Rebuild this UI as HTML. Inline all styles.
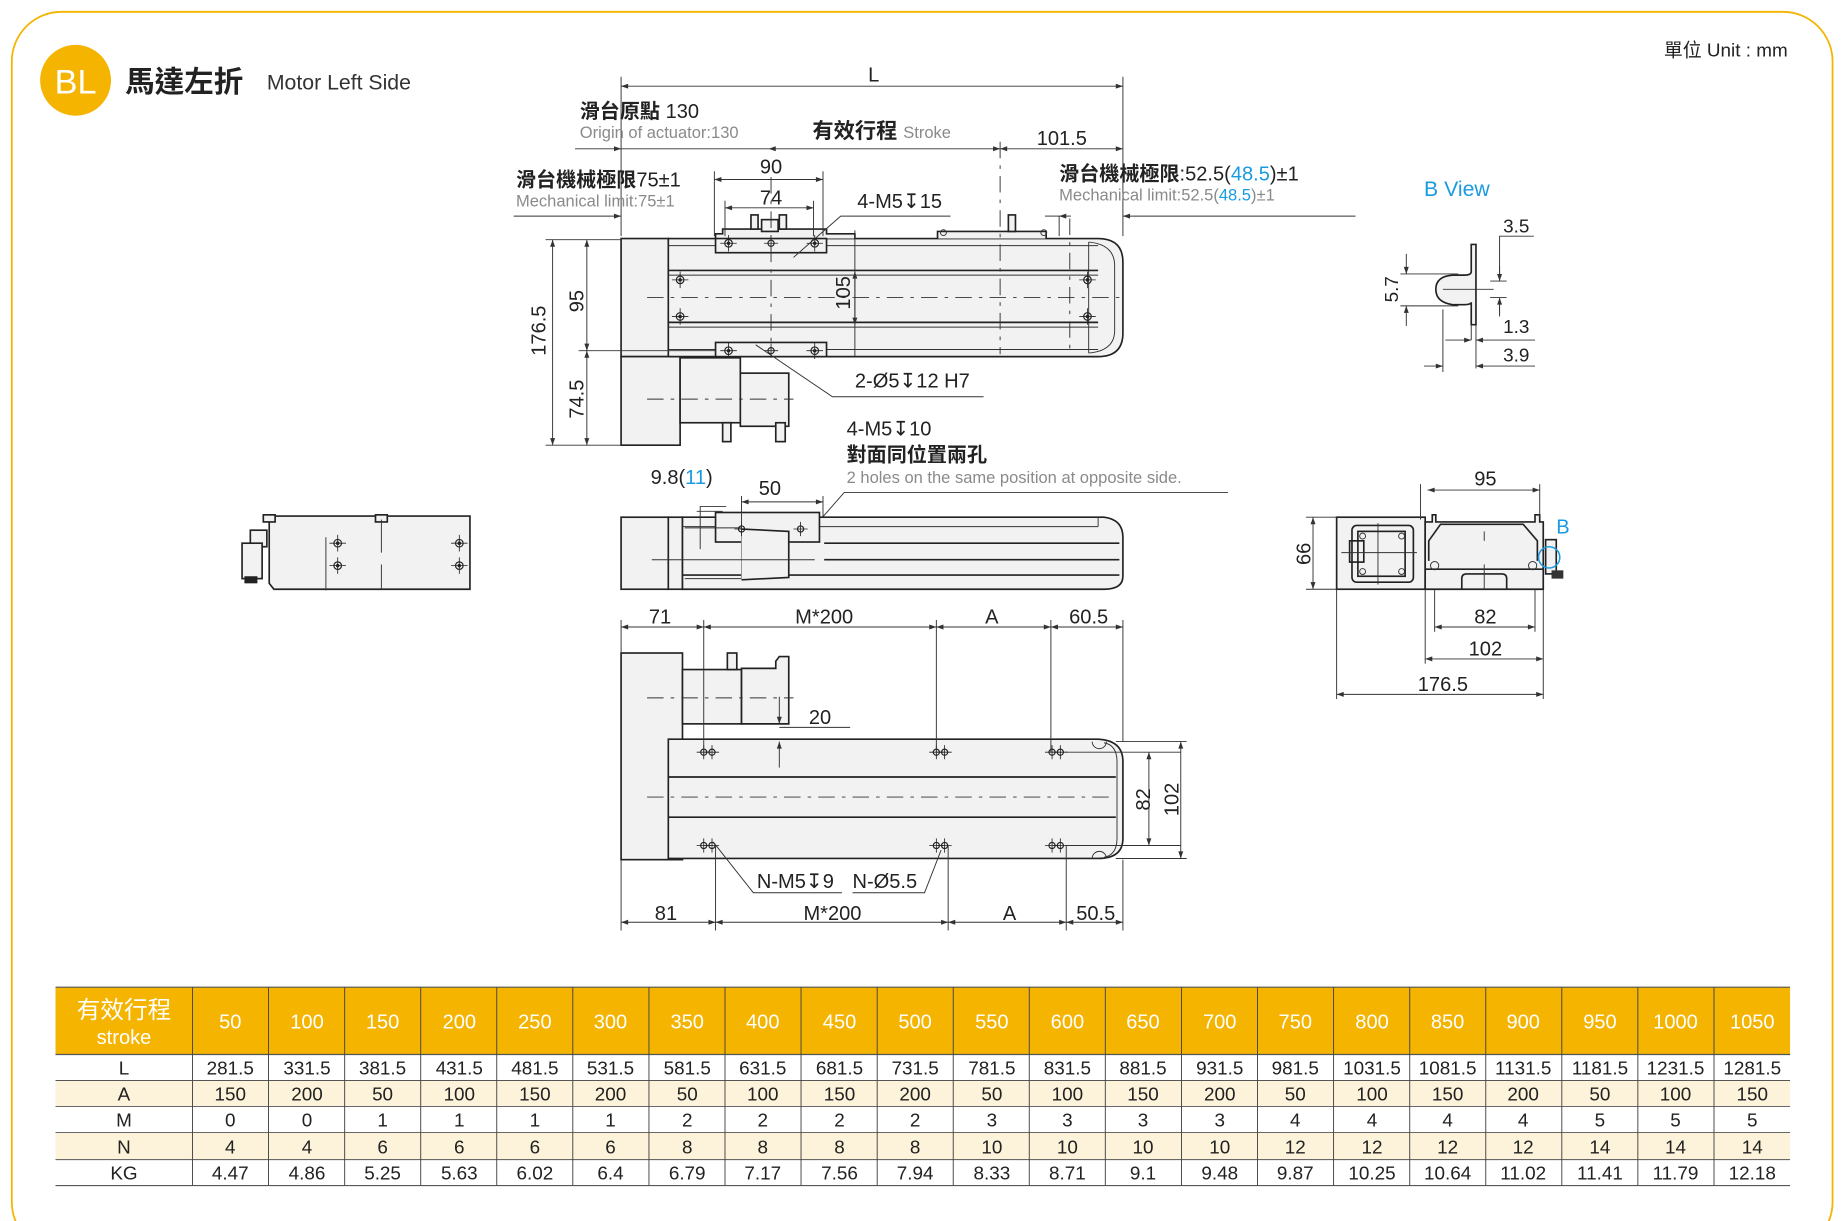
<!DOCTYPE html>
<html><head><meta charset="utf-8"><style>
html,body{margin:0;padding:0;background:#fff;}
svg{display:block;}
text{font-family:"Liberation Sans","Noto Sans CJK TC",sans-serif;fill:#222;}
.g{fill:#8a8a8a;}
.b{fill:#1a9be0;}
.o{fill:none;stroke:#222;stroke-width:1.4;}
.f{fill:#f2f2f2;stroke:#222;stroke-width:1.4;}
.t{fill:none;stroke:#333;stroke-width:0.8;}
.d{fill:none;stroke:#333;stroke-width:0.8;marker-start:url(#a);marker-end:url(#a);}
.c{fill:none;stroke:#333;stroke-width:0.8;stroke-dasharray:14 6 3 6;}
.tc{fill:none;stroke:#333;stroke-width:0.8;}
</style></head><body>
<svg width="1842" height="1221" viewBox="0 0 1560 1034" preserveAspectRatio="none" xmlns="http://www.w3.org/2000/svg">
<defs>
<marker id="a" viewBox="0 0 10 10" refX="10" refY="5" markerWidth="9" markerHeight="6" orient="auto-start-reverse" markerUnits="userSpaceOnUse"><path d="M0,1.5 L10,5 L0,8.5z" fill="#333"/></marker>
<g id="h"><circle r="3.2" fill="none" stroke="#222" stroke-width="1"/><circle r="1.5" fill="#222"/><path d="M-7,0H7M0,-7V7" stroke="#222" stroke-width="0.7"/></g>
<g id="hs"><circle r="2.6" fill="none" stroke="#222" stroke-width="1"/><path d="M-6,0H6M0,-6V6" stroke="#222" stroke-width="0.7"/></g>
</defs>
<rect x="0" y="0" width="1560" height="1034" fill="#fff"/>
<rect x="10" y="10" width="1542" height="1050" rx="42" fill="none" stroke="#f5b400" stroke-width="1.5"/>

<!-- header -->
<circle cx="64" cy="68" r="30" fill="#f5b400"/>
<text x="64" y="79" font-size="29" text-anchor="middle" style="fill:#fff">BL</text>
<text x="106" y="78" font-size="25" font-weight="bold">馬達左折</text>
<text x="226" y="76" font-size="18" style="fill:#333">Motor Left Side</text>
<text x="1514" y="48" font-size="16" text-anchor="end">單位 Unit : mm</text>

<!-- ============ TOP VIEW ============ -->
<rect x="526" y="202" width="40" height="100" class="f"/>
<rect x="526" y="302" width="50" height="75" class="f"/>
<path d="M566,202 H930 Q951,202 951,222 V282 Q951,302 930,302 H566z" class="f"/>
<path d="M922,205 Q944,207 944,225 V280 Q944,297 922,299" class="t"/>
<line x1="922" y1="205" x2="922" y2="299" class="t"/>
<line x1="566" y1="229" x2="930" y2="229" class="o" stroke-width="1"/>
<line x1="566" y1="233" x2="930" y2="233" class="t"/>
<line x1="566" y1="273" x2="930" y2="273" class="o" stroke-width="1"/>
<line x1="566" y1="277" x2="930" y2="277" class="t"/>
<line x1="566" y1="208" x2="930" y2="208" class="t"/>
<line x1="566" y1="296" x2="930" y2="296" class="t"/>
<!-- slider -->
<path d="M606,202 V198 H612 V194 H700 V198 H724 V202" class="f"/>
<rect x="606" y="202" width="94" height="12" class="f"/>
<rect x="606" y="290" width="94" height="12" class="f"/>
<rect x="636" y="182" width="6" height="12" class="f"/><rect x="660" y="182" width="6" height="12" class="f"/>
<rect x="645" y="186" width="14" height="10" class="f"/>
<path d="M794,202 V196 H886 V202" class="f"/>
<rect x="854" y="182" width="6" height="14" class="f"/>
<use href="#h" x="617" y="206"/><use href="#h" x="690" y="206"/><use href="#hs" x="653" y="206"/>
<use href="#h" x="617" y="297"/><use href="#h" x="690" y="297"/><use href="#hs" x="653" y="297"/>
<use href="#h" x="576" y="237"/><use href="#h" x="576" y="268"/><use href="#h" x="921" y="237"/><use href="#h" x="921" y="268"/>
<circle cx="799" cy="197" r="2.5" class="t"/><circle cx="884" cy="197" r="2.5" class="t"/>
<line x1="548" y1="252" x2="948" y2="252" class="c"/>
<line x1="653" y1="150" x2="653" y2="300" class="c"/>
<line x1="847" y1="120" x2="847" y2="300" class="c"/>
<line x1="724" y1="195" x2="724" y2="302" class="t"/>
<line x1="906" y1="185" x2="906" y2="300" class="c"/>
<!-- motor -->
<rect x="576" y="303" width="51" height="55" class="f"/>
<rect x="627" y="316" width="41" height="45" class="f"/>
<rect x="612" y="358" width="7" height="16" class="f"/><rect x="657" y="358" width="8" height="16" class="f"/>
<line x1="548" y1="338" x2="672" y2="338" class="c"/>
<!-- top dims -->
<line x1="526" y1="65" x2="526" y2="200" class="t"/>
<line x1="951" y1="65" x2="951" y2="200" class="t"/>
<line x1="526" y1="73" x2="951" y2="73" class="d"/>
<text x="740" y="69" font-size="17" text-anchor="middle">L</text>
<line x1="487" y1="126" x2="526" y2="126" class="t" marker-end="url(#a)"/>
<line x1="526" y1="126" x2="651" y2="126" class="t"/>
<line x1="651" y1="126" x2="847" y2="126" class="d"/>
<line x1="847" y1="126" x2="951" y2="126" class="d"/>
<text x="491" y="100" font-size="17" font-weight="bold">滑台原點 <tspan font-weight="normal">130</tspan></text>
<text x="491" y="117" font-size="14" class="g">Origin of actuator:130</text>
<text x="688" y="117" font-size="18" font-weight="bold">有效行程 <tspan font-size="14" font-weight="normal" class="g">Stroke</tspan></text>
<text x="878" y="123" font-size="17">101.5</text>
<line x1="435" y1="183" x2="526" y2="183" class="t" marker-end="url(#a)"/>
<text x="437" y="158" font-size="17" font-weight="bold">滑台機械極限<tspan font-weight="normal">75±1</tspan></text>
<text x="437" y="175" font-size="14" class="g">Mechanical limit:75±1</text>
<line x1="605" y1="145" x2="605" y2="200" class="t"/><line x1="697" y1="145" x2="697" y2="200" class="t"/>
<line x1="605" y1="152" x2="697" y2="152" class="d"/>
<text x="653" y="147" font-size="17" text-anchor="middle">90</text>
<line x1="614" y1="170" x2="614" y2="200" class="t"/><line x1="689" y1="170" x2="689" y2="200" class="t"/>
<line x1="614" y1="176" x2="689" y2="176" class="d"/>
<text x="653" y="173" font-size="17" text-anchor="middle">74</text>
<text x="726" y="176" font-size="17">4-M5↧15</text>
<polyline points="805,183 712,183 672,218" class="t"/>
<text x="897" y="153" font-size="17" font-weight="bold">滑台機械極限<tspan font-weight="normal">:52.5(<tspan class="b">48.5</tspan>)±1</tspan></text>
<text x="897" y="170" font-size="14" class="g">Mechanical limit:52.5(<tspan class="b">48.5</tspan>)±1</text>
<line x1="885" y1="183" x2="897" y2="183" class="t"/>
<line x1="897" y1="183" x2="897" y2="200" class="t"/>
<line x1="907" y1="183" x2="897" y2="183" class="t" marker-end="url(#a)"/>
<line x1="1148" y1="183" x2="951" y2="183" class="t" marker-end="url(#a)"/>
<!-- left dims -->
<line x1="462" y1="203" x2="526" y2="203" class="t"/>
<line x1="462" y1="377" x2="526" y2="377" class="t"/>
<line x1="490" y1="297" x2="606" y2="297" class="t"/>
<line x1="468" y1="203" x2="468" y2="377" class="d"/>
<text transform="translate(462,280) rotate(-90)" font-size="17" text-anchor="middle">176.5</text>
<line x1="497" y1="203" x2="497" y2="297" class="d"/>
<text transform="translate(494,255) rotate(-90)" font-size="17" text-anchor="middle">95</text>
<line x1="497" y1="297" x2="497" y2="377" class="d"/>
<text transform="translate(494,338) rotate(-90)" font-size="17" text-anchor="middle">74.5</text>
<line x1="724" y1="230" x2="724" y2="275" class="d"/>
<text transform="translate(720,248) rotate(-90)" font-size="17" text-anchor="middle">105</text>
<text x="724" y="328" font-size="17">2-Ø5↧12 H7</text>
<polyline points="833,336 705,336 640,292" class="t"/>
<text x="717" y="369" font-size="17">4-M5↧10</text>
<text x="717" y="391" font-size="17" font-weight="bold">對面同位置兩孔</text>
<text x="717" y="409" font-size="14" class="g">2 holes on the same position at opposite side.</text>
<polyline points="1040,417 715,417 680,457" class="t"/>

<!-- ============ SIDE VIEW (middle) ============ -->
<rect x="526" y="438" width="40" height="61" class="f"/>
<rect x="566" y="438" width="12" height="61" class="f"/>
<path d="M578,438 H935 Q951,440 951,455 V488 Q951,499 935,499 H578z" class="f"/>
<line x1="578" y1="446" x2="930" y2="446" class="t"/>
<line x1="930" y1="438" x2="930" y2="446" class="t"/>
<line x1="698" y1="460" x2="948" y2="460" class="o" stroke-width="1"/>
<line x1="698" y1="474" x2="948" y2="474" class="o" stroke-width="1"/>
<line x1="578" y1="487" x2="948" y2="487" class="o" stroke-width="1"/>
<rect x="606" y="434" width="88" height="25" class="f"/>
<path d="M580,447 H628 V490 H580" class="t"/>
<path d="M628,448 L668,450 V489 L628,491" class="f"/>
<line x1="552" y1="474" x2="690" y2="474" class="t"/>
<use href="#hs" x="628" y="448"/><use href="#hs" x="678" y="448"/>
<text x="551" y="410" font-size="17">9.8(<tspan class="b">11</tspan>)</text>
<polyline points="615,429 593,429 593,465" class="t"/>
<line x1="590" y1="433" x2="612" y2="433" class="t"/>
<line x1="628" y1="420" x2="628" y2="448" class="t"/><line x1="697" y1="420" x2="697" y2="438" class="t"/>
<line x1="628" y1="425" x2="697" y2="425" class="d"/>
<text x="652" y="419" font-size="17" text-anchor="middle">50</text>

<!-- ============ BOTTOM VIEW ============ -->
<rect x="526" y="553" width="52" height="175" class="f"/>
<path d="M566,626 H930 Q951,627 951,645 V710 Q951,727 930,727 H566z" class="f"/>
<line x1="566" y1="658" x2="945" y2="658" class="o" stroke-width="1.1"/>
<line x1="566" y1="692" x2="945" y2="692" class="o" stroke-width="1.1"/>
<path d="M925,628 A6,6 0 0 0 937,628 M925,727 A6,6 0 0 1 937,727" class="t"/>
<path d="M935,629 Q946,631 946,645 V710 Q946,724 935,726" class="t"/>
<line x1="548" y1="675" x2="945" y2="675" class="c"/>
<rect x="578" y="567" width="50" height="46" class="f"/>
<path d="M628,566 H657 V560 L660,556 H668 V613 H628z" class="f"/>
<rect x="616" y="553" width="8" height="14" class="f"/>
<line x1="548" y1="591" x2="672" y2="591" class="c"/>
<use href="#hs" x="596" y="637"/><use href="#hs" x="603" y="637"/>
<use href="#hs" x="793" y="637"/><use href="#hs" x="800" y="637"/>
<use href="#hs" x="891" y="637"/><use href="#hs" x="898" y="637"/>
<use href="#hs" x="596" y="716"/><use href="#hs" x="603" y="716"/>
<use href="#hs" x="793" y="716"/><use href="#hs" x="800" y="716"/>
<use href="#hs" x="891" y="716"/><use href="#hs" x="898" y="716"/>
<line x1="902" y1="637" x2="1000" y2="637" class="t"/>
<line x1="902" y1="716" x2="1000" y2="716" class="t"/>
<line x1="945" y1="628" x2="1005" y2="628" class="t"/>
<line x1="945" y1="727" x2="1005" y2="727" class="t"/>
<line x1="973" y1="637" x2="973" y2="716" class="d"/>
<text transform="translate(974,677) rotate(-90)" font-size="17" text-anchor="middle">82</text>
<line x1="1000" y1="628" x2="1000" y2="727" class="d"/>
<text transform="translate(998,677) rotate(-90)" font-size="17" text-anchor="middle">102</text>
<!-- top dims -->
<line x1="526" y1="525" x2="526" y2="553" class="t"/>
<line x1="596" y1="525" x2="596" y2="640" class="t"/>
<line x1="793" y1="525" x2="793" y2="637" class="t"/>
<line x1="890" y1="525" x2="890" y2="637" class="t"/>
<line x1="951" y1="525" x2="951" y2="628" class="t"/>
<line x1="526" y1="531" x2="596" y2="531" class="d"/>
<line x1="596" y1="531" x2="793" y2="531" class="d"/>
<line x1="793" y1="531" x2="890" y2="531" class="d"/>
<line x1="890" y1="531" x2="951" y2="531" class="d"/>
<text x="559" y="528" font-size="17" text-anchor="middle">71</text>
<text x="698" y="528" font-size="17" text-anchor="middle">M*200</text>
<text x="840" y="528" font-size="17" text-anchor="middle">A</text>
<text x="922" y="528" font-size="17" text-anchor="middle">60.5</text>
<text x="685" y="613" font-size="17">20</text>
<line x1="660" y1="616" x2="720" y2="616" class="t"/>
<line x1="660" y1="590" x2="660" y2="613" class="t" marker-end="url(#a)"/>
<line x1="660" y1="650" x2="660" y2="628" class="t" marker-end="url(#a)"/>
<!-- bottom dims -->
<line x1="526" y1="728" x2="526" y2="788" class="t"/>
<line x1="606" y1="716" x2="606" y2="788" class="t"/>
<line x1="803" y1="716" x2="803" y2="788" class="t"/>
<line x1="903" y1="716" x2="903" y2="788" class="t"/>
<line x1="951" y1="728" x2="951" y2="788" class="t"/>
<line x1="526" y1="781" x2="606" y2="781" class="d"/>
<line x1="606" y1="781" x2="803" y2="781" class="d"/>
<line x1="803" y1="781" x2="903" y2="781" class="d"/>
<line x1="903" y1="781" x2="951" y2="781" class="d"/>
<text x="564" y="779" font-size="17" text-anchor="middle">81</text>
<text x="705" y="779" font-size="17" text-anchor="middle">M*200</text>
<text x="855" y="779" font-size="17" text-anchor="middle">A</text>
<text x="928" y="779" font-size="17" text-anchor="middle">50.5</text>
<text x="641" y="752" font-size="17">N-M5↧9</text>
<polyline points="713,756 638,756 604,713" class="t"/>
<text x="722" y="752" font-size="17">N-Ø5.5</text>
<polyline points="722,756 783,756 797,720" class="t"/>

<!-- ============ LEFT SIDE VIEW ============ -->
<path d="M226,437 H398 V499 H232 L228,494 V442z" class="f"/>
<rect x="223" y="436" width="10" height="6" class="f"/>
<rect x="318" y="436" width="10" height="6" class="f"/>
<rect x="212" y="449" width="14" height="14" class="f"/>
<rect x="205" y="460" width="17" height="30" class="f"/>
<rect x="207" y="488" width="11" height="6" fill="#222"/>
<line x1="323" y1="440" x2="323" y2="468" class="t"/>
<line x1="323" y1="478" x2="323" y2="499" class="t"/>
<line x1="276" y1="455" x2="276" y2="500" class="t"/>
<use href="#h" x="286" y="460"/><use href="#h" x="286" y="479"/>
<use href="#h" x="389" y="460"/><use href="#h" x="389" y="479"/>

<!-- ============ RIGHT END VIEW ============ -->
<rect x="1132" y="438" width="75" height="61" class="f"/>
<rect x="1145" y="445" width="52" height="48" rx="4" class="o" stroke-width="1"/>
<rect x="1150" y="450" width="40" height="38" class="o" stroke-width="1"/>
<rect x="1143" y="458" width="12" height="18" class="o" stroke-width="1"/>
<line x1="1136" y1="468" x2="1200" y2="468" class="t"/>
<line x1="1167" y1="443" x2="1167" y2="495" class="t"/>
<circle cx="1154" cy="454" r="2.5" class="t"/><circle cx="1187" cy="454" r="2.5" class="t"/>
<circle cx="1154" cy="484" r="2.5" class="t"/><circle cx="1187" cy="484" r="2.5" class="t"/>
<path d="M1207,499 V442 H1213 V436 H1216 V442 H1300 V436 H1304 V442 H1307 V499z" class="f"/>
<path d="M1210,475 V458 L1220,444 H1290 L1302,458 V475" class="o" stroke-width="1.1"/>
<line x1="1207" y1="482" x2="1307" y2="482" class="o" stroke-width="1.1"/>
<path d="M1238,499 V490 Q1238,486 1242,486 H1272 Q1276,486 1276,490 V499" class="o" stroke-width="1.1"/>
<circle cx="1215" cy="479" r="3.5" class="t"/><circle cx="1298" cy="479" r="3.5" class="t"/>
<line x1="1257" y1="450" x2="1257" y2="458" class="t"/>
<line x1="1257" y1="478" x2="1257" y2="499" class="t"/>
<rect x="1309" y="457" width="9" height="29" class="f"/>
<rect x="1314" y="483" width="10" height="7" fill="#333"/>
<circle cx="1312" cy="472" r="9" fill="none" stroke="#1a9be0" stroke-width="1.3"/>
<text x="1318" y="452" font-size="17" class="b">B</text>
<line x1="1203" y1="410" x2="1203" y2="440" class="t"/><line x1="1304" y1="410" x2="1304" y2="440" class="t"/>
<line x1="1209" y1="415" x2="1304" y2="415" class="d"/>
<text x="1258" y="411" font-size="17" text-anchor="middle">95</text>
<line x1="1106" y1="438" x2="1132" y2="438" class="t"/><line x1="1106" y1="499" x2="1132" y2="499" class="t"/>
<line x1="1112" y1="438" x2="1112" y2="499" class="d"/>
<text transform="translate(1110,469) rotate(-90)" font-size="17" text-anchor="middle">66</text>
<line x1="1215" y1="499" x2="1215" y2="535" class="t"/><line x1="1300" y1="499" x2="1300" y2="535" class="t"/>
<line x1="1215" y1="531" x2="1300" y2="531" class="d"/>
<text x="1258" y="528" font-size="17" text-anchor="middle">82</text>
<line x1="1207" y1="499" x2="1207" y2="562" class="t"/><line x1="1307" y1="499" x2="1307" y2="592" class="t"/>
<line x1="1207" y1="558" x2="1307" y2="558" class="d"/>
<text x="1258" y="555" font-size="17" text-anchor="middle">102</text>
<line x1="1132" y1="499" x2="1132" y2="592" class="t"/>
<line x1="1132" y1="588" x2="1307" y2="588" class="d"/>
<text x="1222" y="585" font-size="17" text-anchor="middle">176.5</text>

<!-- ============ B VIEW ============ -->
<text x="1206" y="166" font-size="18" class="b">B View</text>
<path d="M1246,207 H1250 V275 H1246 V256 Q1246,258 1240,258 H1230 Q1216,256 1216,245 Q1216,234 1230,233 H1240 Q1246,233 1246,230z" class="f"/>
<line x1="1222" y1="245" x2="1265" y2="245" class="t"/>
<line x1="1186" y1="232" x2="1235" y2="232" class="t"/><line x1="1186" y1="259" x2="1235" y2="259" class="t"/>
<line x1="1191" y1="215" x2="1191" y2="232" class="t" marker-end="url(#a)"/>
<line x1="1191" y1="276" x2="1191" y2="259" class="t" marker-end="url(#a)"/>
<text transform="translate(1184,245) rotate(-90)" font-size="16" text-anchor="middle">5.7</text>
<polyline points="1299,200 1270,200 1270,238" class="t"/>
<line x1="1270" y1="225" x2="1270" y2="238" class="t" marker-end="url(#a)"/>
<line x1="1270" y1="266" x2="1270" y2="252" class="t" marker-end="url(#a)"/>
<line x1="1262" y1="238" x2="1276" y2="238" class="t"/><line x1="1262" y1="252" x2="1276" y2="252" class="t"/>
<line x1="1270" y1="252" x2="1270" y2="268" class="t"/>
<text x="1273" y="197" font-size="16">3.5</text>
<text x="1273" y="282" font-size="16">1.3</text>
<line x1="1246" y1="275" x2="1246" y2="288" class="t"/><line x1="1250" y1="275" x2="1250" y2="312" class="t"/>
<line x1="1222" y1="262" x2="1222" y2="315" class="t"/>
<line x1="1224" y1="288" x2="1246" y2="288" class="t" marker-end="url(#a)"/>
<line x1="1300" y1="288" x2="1250" y2="288" class="t" marker-end="url(#a)"/>
<text x="1273" y="306" font-size="16">3.9</text>
<line x1="1206" y1="310" x2="1222" y2="310" class="t" marker-end="url(#a)"/>
<line x1="1300" y1="310" x2="1250" y2="310" class="t" marker-end="url(#a)"/>

<!-- ============ TABLE ============ -->
<g id="tbl">
<rect x="47" y="836" width="1469" height="57" fill="#f5b400"/>
<rect x="47" y="915" width="1469" height="22" fill="#fdf3da"/>
<rect x="47" y="959" width="1469" height="23" fill="#fdf3da"/>
<line x1="47" y1="836" x2="1516" y2="836" stroke="#555" stroke-width="1"/>
<line x1="47" y1="893" x2="1516" y2="893" stroke="#555" stroke-width="1"/>
<line x1="47" y1="915" x2="1516" y2="915" stroke="#555" stroke-width="0.8"/>
<line x1="47" y1="937" x2="1516" y2="937" stroke="#555" stroke-width="0.8"/>
<line x1="47" y1="959" x2="1516" y2="959" stroke="#555" stroke-width="0.8"/>
<line x1="47" y1="982" x2="1516" y2="982" stroke="#555" stroke-width="0.8"/>
<line x1="47" y1="1004" x2="1516" y2="1004" stroke="#555" stroke-width="1"/>
<g stroke="#444" stroke-width="0.8">
<line x1="163" y1="836" x2="163" y2="1004"/><line x1="227.4" y1="836" x2="227.4" y2="1004"/><line x1="291.9" y1="836" x2="291.9" y2="1004"/><line x1="356.3" y1="836" x2="356.3" y2="1004"/><line x1="420.7" y1="836" x2="420.7" y2="1004"/><line x1="485.1" y1="836" x2="485.1" y2="1004"/><line x1="549.6" y1="836" x2="549.6" y2="1004"/><line x1="614" y1="836" x2="614" y2="1004"/><line x1="678.4" y1="836" x2="678.4" y2="1004"/><line x1="742.9" y1="836" x2="742.9" y2="1004"/><line x1="807.3" y1="836" x2="807.3" y2="1004"/><line x1="871.7" y1="836" x2="871.7" y2="1004"/><line x1="936.1" y1="836" x2="936.1" y2="1004"/><line x1="1000.6" y1="836" x2="1000.6" y2="1004"/><line x1="1065" y1="836" x2="1065" y2="1004"/><line x1="1129.4" y1="836" x2="1129.4" y2="1004"/><line x1="1193.9" y1="836" x2="1193.9" y2="1004"/><line x1="1258.3" y1="836" x2="1258.3" y2="1004"/><line x1="1322.7" y1="836" x2="1322.7" y2="1004"/><line x1="1387.1" y1="836" x2="1387.1" y2="1004"/><line x1="1451.6" y1="836" x2="1451.6" y2="1004"/>
</g>
<text x="105" y="862" font-size="20" text-anchor="middle" style="fill:#fff">有效行程</text>
<text x="105" y="884" font-size="17" text-anchor="middle" style="fill:#fff">stroke</text>
<g font-size="17" text-anchor="middle" style="fill:#fff">
<text x="195" y="871" style="fill:#fff">50</text><text x="260" y="871" style="fill:#fff">100</text><text x="324" y="871" style="fill:#fff">150</text><text x="389" y="871" style="fill:#fff">200</text><text x="453" y="871" style="fill:#fff">250</text><text x="517" y="871" style="fill:#fff">300</text><text x="582" y="871" style="fill:#fff">350</text><text x="646" y="871" style="fill:#fff">400</text><text x="711" y="871" style="fill:#fff">450</text><text x="775" y="871" style="fill:#fff">500</text><text x="840" y="871" style="fill:#fff">550</text><text x="904" y="871" style="fill:#fff">600</text><text x="968" y="871" style="fill:#fff">650</text><text x="1033" y="871" style="fill:#fff">700</text><text x="1097" y="871" style="fill:#fff">750</text><text x="1162" y="871" style="fill:#fff">800</text><text x="1226" y="871" style="fill:#fff">850</text><text x="1290" y="871" style="fill:#fff">900</text><text x="1355" y="871" style="fill:#fff">950</text><text x="1419" y="871" style="fill:#fff">1000</text><text x="1484" y="871" style="fill:#fff">1050</text>
</g>
<g font-size="16" text-anchor="middle">
<text x="105" y="910">L</text><text x="195" y="910">281.5</text><text x="260" y="910">331.5</text><text x="324" y="910">381.5</text><text x="389" y="910">431.5</text><text x="453" y="910">481.5</text><text x="517" y="910">531.5</text><text x="582" y="910">581.5</text><text x="646" y="910">631.5</text><text x="711" y="910">681.5</text><text x="775" y="910">731.5</text><text x="840" y="910">781.5</text><text x="904" y="910">831.5</text><text x="968" y="910">881.5</text><text x="1033" y="910">931.5</text><text x="1097" y="910">981.5</text><text x="1162" y="910">1031.5</text><text x="1226" y="910">1081.5</text><text x="1290" y="910">1131.5</text><text x="1355" y="910">1181.5</text><text x="1419" y="910">1231.5</text><text x="1484" y="910">1281.5</text>
<text x="105" y="932">A</text><text x="195" y="932">150</text><text x="260" y="932">200</text><text x="324" y="932">50</text><text x="389" y="932">100</text><text x="453" y="932">150</text><text x="517" y="932">200</text><text x="582" y="932">50</text><text x="646" y="932">100</text><text x="711" y="932">150</text><text x="775" y="932">200</text><text x="840" y="932">50</text><text x="904" y="932">100</text><text x="968" y="932">150</text><text x="1033" y="932">200</text><text x="1097" y="932">50</text><text x="1162" y="932">100</text><text x="1226" y="932">150</text><text x="1290" y="932">200</text><text x="1355" y="932">50</text><text x="1419" y="932">100</text><text x="1484" y="932">150</text>
<text x="105" y="954">M</text><text x="195" y="954">0</text><text x="260" y="954">0</text><text x="324" y="954">1</text><text x="389" y="954">1</text><text x="453" y="954">1</text><text x="517" y="954">1</text><text x="582" y="954">2</text><text x="646" y="954">2</text><text x="711" y="954">2</text><text x="775" y="954">2</text><text x="840" y="954">3</text><text x="904" y="954">3</text><text x="968" y="954">3</text><text x="1033" y="954">3</text><text x="1097" y="954">4</text><text x="1162" y="954">4</text><text x="1226" y="954">4</text><text x="1290" y="954">4</text><text x="1355" y="954">5</text><text x="1419" y="954">5</text><text x="1484" y="954">5</text>
<text x="105" y="977">N</text><text x="195" y="977">4</text><text x="260" y="977">4</text><text x="324" y="977">6</text><text x="389" y="977">6</text><text x="453" y="977">6</text><text x="517" y="977">6</text><text x="582" y="977">8</text><text x="646" y="977">8</text><text x="711" y="977">8</text><text x="775" y="977">8</text><text x="840" y="977">10</text><text x="904" y="977">10</text><text x="968" y="977">10</text><text x="1033" y="977">10</text><text x="1097" y="977">12</text><text x="1162" y="977">12</text><text x="1226" y="977">12</text><text x="1290" y="977">12</text><text x="1355" y="977">14</text><text x="1419" y="977">14</text><text x="1484" y="977">14</text>
<text x="105" y="999">KG</text><text x="195" y="999">4.47</text><text x="260" y="999">4.86</text><text x="324" y="999">5.25</text><text x="389" y="999">5.63</text><text x="453" y="999">6.02</text><text x="517" y="999">6.4</text><text x="582" y="999">6.79</text><text x="646" y="999">7.17</text><text x="711" y="999">7.56</text><text x="775" y="999">7.94</text><text x="840" y="999">8.33</text><text x="904" y="999">8.71</text><text x="968" y="999">9.1</text><text x="1033" y="999">9.48</text><text x="1097" y="999">9.87</text><text x="1162" y="999">10.25</text><text x="1226" y="999">10.64</text><text x="1290" y="999">11.02</text><text x="1355" y="999">11.41</text><text x="1419" y="999">11.79</text><text x="1484" y="999">12.18</text>
</g>
</g>
</svg>
</body></html>
